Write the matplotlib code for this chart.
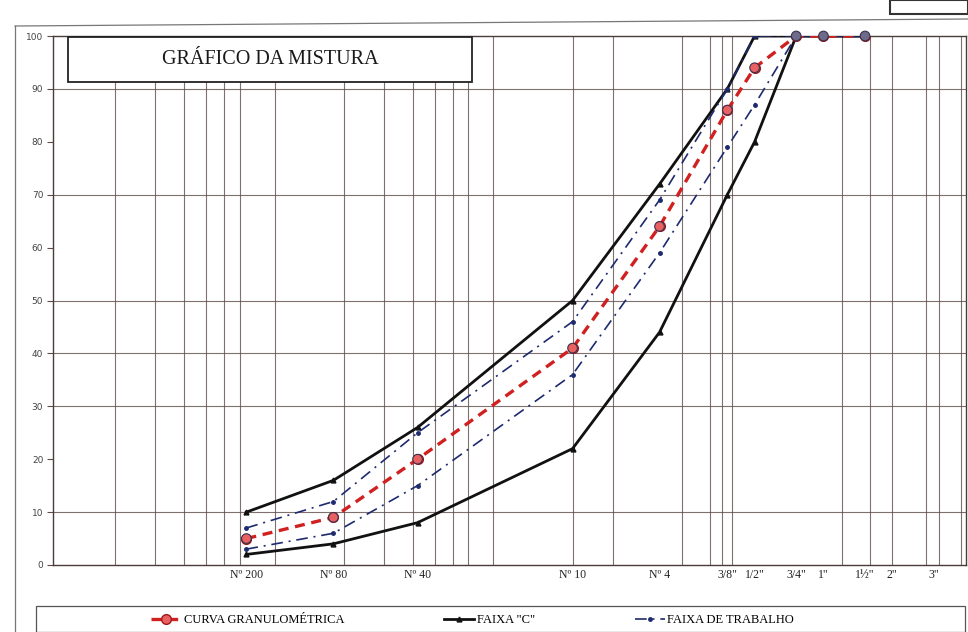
import matplotlib
matplotlib.use('Agg')  # no display here
import matplotlib.pyplot as plt
from matplotlib.patches import Rectangle
from matplotlib.ticker import NullFormatter

# peneiras (mm) e rótulos do eixo x
sieve_labels = ['Nº 200', 'Nº 80', 'Nº 40', 'Nº 10', 'Nº 4', '3/8"', '1/2"', '3/4"', '1"', '1½"', '2"', '3"']
sieve_mm = [0.075, 0.18, 0.42, 2.0, 4.8, 9.5, 12.5, 19.0, 25.0, 38.0, 50.0, 76.0]

# % passando (Nº 200 ... 1½")
data_mm = sieve_mm[:10]
curva = [5, 9, 20, 41, 64, 86, 94, 100, 100, 100]
faixa_c_sup = [10, 16, 26, 50, 72, 90, 100, 100, 100, 100]
faixa_c_inf = [2, 4, 8, 22, 44, 70, 80, 100, 100, 100]
trab_sup = [7, 12, 25, 46, 69, 90, 100, 100, 100, 100]
trab_inf = [3, 6, 15, 36, 59, 79, 87, 100, 100, 100]

# linhas de grade que aparecem na cópia
grid_x = [0.02, 0.03, 0.04, 0.05, 0.06, 0.07, 0.1, 0.2, 0.3, 0.4, 0.5, 0.6, 0.7, 0.9,
          2, 3, 6, 8, 9, 10, 30, 40, 50, 70, 80, 100]
grid_y = [10, 30, 40, 50, 70, 90]

W, H = 968, 632
fig = plt.figure(figsize=(W / 100, H / 100), dpi=100)
fig.patch.set_facecolor('white')

def fx(px):
    return px / W

def fy(py):
    return 1 - py / H

ax = fig.add_axes([fx(53), fy(565), fx(966) - fx(53), fy(36) - fy(565)])
ax.set_xscale('log')
ax.set_xlim(0.0107, 105)
ax.set_ylim(0, 100)

grid_col = '#5e4c48'
ax.xaxis.remove_overlapping_locs = False
ax.yaxis.remove_overlapping_locs = False
ax.set_xticks(grid_x, minor=True)
ax.xaxis.set_minor_formatter(NullFormatter())
ax.set_yticks(grid_y, minor=True)
ax.yaxis.set_minor_formatter(NullFormatter())
ax.grid(which='minor', color=grid_col, linewidth=0.8, alpha=0.8)
ax.grid(which='major', visible=False)
ax.tick_params(which='minor', length=0)

ax.set_xticks(sieve_mm)
ax.set_xticklabels(sieve_labels, family='Liberation Serif', fontsize=8.5, color='#222')
ax.tick_params(axis='x', which='major', length=0, pad=3)
ax.set_yticks(range(0, 101, 10))
ax.tick_params(axis='y', which='major', length=4, width=0.8, color=grid_col,
               labelsize=6.5, labelcolor='#444', pad=3)
for s in ax.spines.values():
    s.set_color('#4a3c3a')
    s.set_linewidth(1.0)

# séries
l_fs, = ax.plot(data_mm, faixa_c_sup, color='#111', lw=2.0, marker='^', ms=3.5,
                label='FAIXA "C"', zorder=3)
ax.plot(data_mm, faixa_c_inf, color='#111', lw=2.0, marker='^', ms=3.5, zorder=3)
dashdot = (0, (7, 3.5, 1.2, 3.5))
l_tr, = ax.plot(data_mm, trab_sup, color='#1d2a6e', lw=1.2, ls=dashdot, marker='o', ms=2.5,
                label='FAIXA DE TRABALHO', zorder=4)
ax.plot(data_mm, trab_inf, color='#1d2a6e', lw=1.2, ls=dashdot, marker='o', ms=2.5, zorder=4)
l_cg, = ax.plot(data_mm, curva, color='#d02020', lw=2.4, ls=(0, (3, 2)), marker='o', ms=7,
                mfc='#e86060', mec='#a01818', mew=1.0, label='CURVA GRANULOMÉTRICA', zorder=5)
pt_cols = ['#e86060' if v < 100 else '#6e6a8a' for v in curva]
ax.scatter(data_mm, curva, s=48, c=pt_cols, edgecolors='#3a3050', linewidths=0.8, zorder=6,
           clip_on=False)

# caixa do título
ax.add_patch(Rectangle((fx(68), fy(82)), fx(472) - fx(68), fy(37) - fy(82), transform=fig.transFigure,
                       facecolor='white', edgecolor='#222', lw=1.3, zorder=7))
fig.text(fx(270), fy(59), 'GRÁFICO DA MISTURA', family='Liberation Serif', fontsize=14.5,
         ha='center', va='center', color='#1a1a1a', zorder=8)

# moldura externa e caixa no canto
fig.add_artist(plt.Line2D([fx(15), fx(15)], [fy(26), 0], transform=fig.transFigure, color='#777', lw=0.9))
fig.add_artist(plt.Line2D([fx(15), 1], [fy(26), fy(19)], transform=fig.transFigure, color='#777', lw=0.9))
fig.add_artist(Rectangle((fx(890), fy(14)), 1 - fx(890), fy(0) - fy(14), transform=fig.transFigure,
                         facecolor='white', edgecolor='#333', lw=1.5))

# legenda
fig.add_artist(Rectangle((fx(36), 0), fx(965) - fx(36), fy(606), transform=fig.transFigure,
                         facecolor='white', edgecolor='#555', lw=0.9))
fig.legend(handles=[l_cg, l_fs, l_tr], loc='center left', bbox_to_anchor=(fx(140), fy(620)),
           ncol=3, frameon=False, handlelength=2.4, handletextpad=0.2, columnspacing=8.0,
           prop={'family': 'Liberation Serif', 'size': 9})

plt.savefig('out.png', dpi=100, facecolor='white')
plt.close(fig)
